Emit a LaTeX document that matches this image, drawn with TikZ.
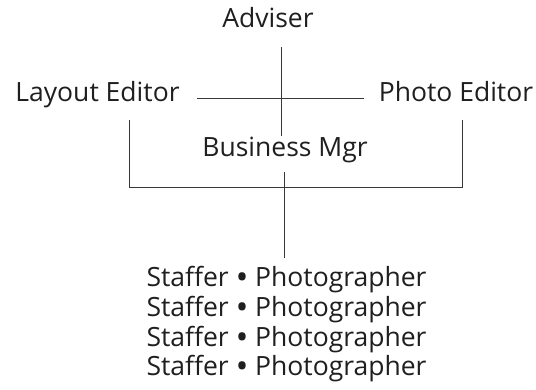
\documentclass[tikz,border=0pt]{standalone}
\usepackage{fontspec}
\setmainfont{Open Sans}
\begin{document}
\begin{tikzpicture}[x=1pt,y=-1pt,
  lbl/.style={font=\fontsize{26.5}{29.6}\selectfont, text=black!88, inner sep=0pt, anchor=base},
  bul/.style={lbl, font=\fontsize{26.5}{29.6}\selectfont\bfseries},
  conn/.style={draw=black!78, line width=1pt}]
\useasboundingbox (0,0) rectangle (536,390);
\node[lbl] (adv) at (268,28) {Adviser};
\node[lbl] (lay) at (97.5,102) {Layout Editor};
\node[lbl] (pho) at (456,102) {Photo Editor};
\node[lbl] (bus) at (285,157) {Business Mgr};
\foreach \i/\y in {1/287,2/316.6,3/346.2,4/375.8}{
  \node[bul] (d\i) at (242,\y) {•};
  \node[lbl, anchor=base east] (st\i) at (229,\y) {Staffer};
  \node[lbl, anchor=base west] (ph\i) at (255,\y) {Photographer};
}
\coordinate (ta) at (281,47);
\coordinate (tb) at (281,136);
\coordinate (hl) at (197,99);
\coordinate (hr) at (364,99);
\coordinate (lt) at (129,120);
\coordinate (rt) at (462,120);
\coordinate (lb) at (129,188);
\coordinate (rb) at (462,188);
\coordinate (ct) at (284,172);
\coordinate (cb) at (284,258);
\draw[conn] (ta) -- (tb);
\draw[conn] (hl) -- (hr);
\draw[conn] (lt) -- (lb) -- (rb) -- (rt);
\draw[conn] (ct) -- (cb);
\end{tikzpicture}
\end{document}
